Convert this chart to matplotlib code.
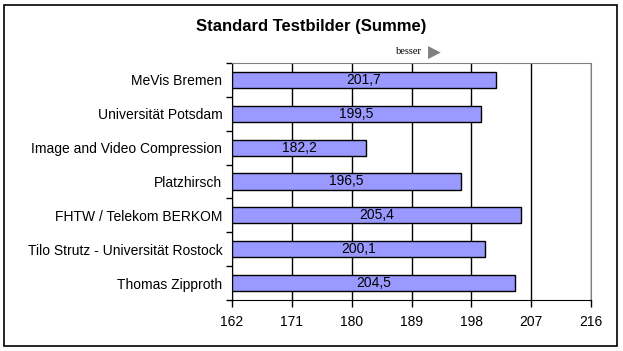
import matplotlib
matplotlib.use("Agg")
import matplotlib.pyplot as plt
from matplotlib.patches import Rectangle

plt.rcParams['font.family'] = ['Liberation Sans', 'DejaVu Sans']

teams = ["MeVis Bremen", "Universität Potsdam", "Image and Video Compression",
         "Platzhirsch", "FHTW / Telekom BERKOM",
         "Tilo Strutz - Universität Rostock", "Thomas Zipproth"]
scores = [201.7, 199.5, 182.2, 196.5, 205.4, 200.1, 204.5]
xticks = [162, 171, 180, 189, 198, 207, 216]

fig = plt.figure(figsize=(6.23, 3.51), dpi=100)
ax = fig.add_axes([232 / 623, 51 / 351, 359 / 623, 237 / 351])

base = xticks[0]
ypos = list(range(len(teams)))
widths = [s - base for s in scores]
ax.barh(ypos, widths, left=base, height=0.48, color="#9999ff",
        edgecolor="black", linewidth=1, zorder=3)

for y, s in zip(ypos, scores):
    ax.text(base + (s - base) / 2, y, f"{s:.1f}".replace(".", ","),
            ha="center", va="center", fontsize=10, zorder=4)

ax.set_xlim(xticks[0], xticks[-1])
ax.set_ylim(len(teams) - 0.5, -0.5)
ax.set_xticks(xticks)
ax.set_xticklabels([str(t) for t in xticks], fontsize=10)
ax.set_yticks(ypos)
ax.set_yticklabels(teams, fontsize=10)
ax.set_yticks([i + 0.5 for i in range(-1, len(teams))], minor=True)
ax.tick_params(axis="y", which="major", length=0, pad=7)
ax.tick_params(axis="y", which="minor", length=4, width=1, direction="out")
ax.tick_params(axis="x", length=5, width=1, direction="out", pad=6)

ax.grid(axis="x", color="black", linewidth=1, zorder=1)
for side in ["top", "right"]:
    ax.spines[side].set_color("#808080")
for side in ["left", "bottom"]:
    ax.spines[side].set_color("black")

fig.text(0.5, 1 - 26 / 351, "Standard Testbilder (Summe)",
         ha="center", va="center", fontsize=12, fontweight="bold")
fig.text(409 / 623, 1 - 52 / 351, "besser", ha="center", va="center",
         fontsize=7.5, family="Liberation Serif")
fig.text(434 / 623, 1 - 53 / 351, "▶", ha="center", va="center",
         fontsize=12, color="#808080", family="DejaVu Sans")

fig.patches.append(Rectangle((4 / 623, 5 / 351), 613 / 623, 341 / 351,
                             transform=fig.transFigure, fill=False,
                             edgecolor="black", linewidth=1.2))

fig.savefig("out.png", dpi=100)
